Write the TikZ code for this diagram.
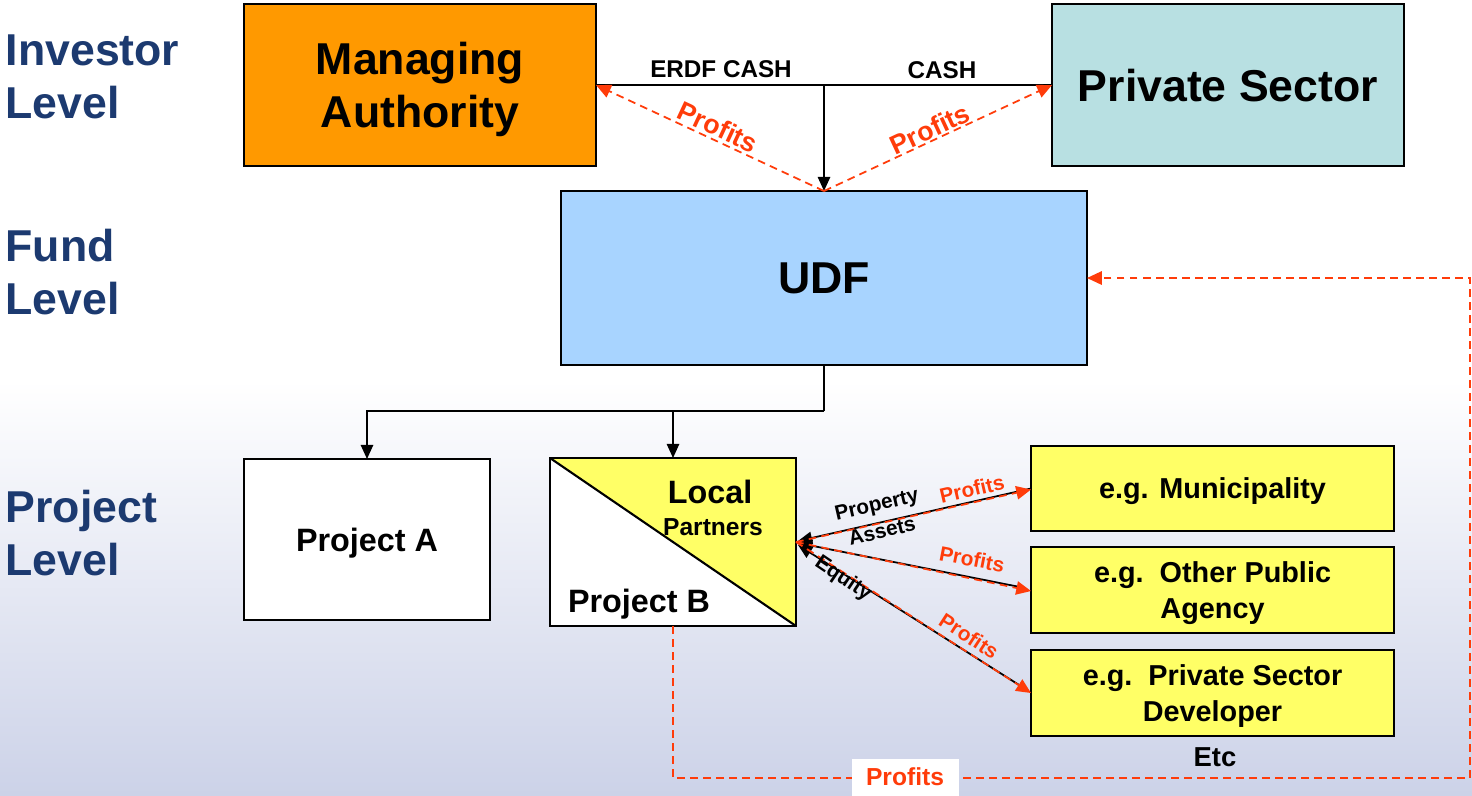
\documentclass[tikz,border=0pt]{standalone}
\usepackage{fontspec}
\setmainfont{Liberation Sans}
\usetikzlibrary{arrows.meta, positioning, calc}

\definecolor{levelblue}{RGB}{28,58,112}
\definecolor{maorange}{RGB}{255,153,0}
\definecolor{psteal}{RGB}{184,224,226}
\definecolor{udfblue}{RGB}{168,212,255}
\definecolor{partyellow}{RGB}{255,255,102}
\definecolor{profitred}{RGB}{255,60,10}
\definecolor{bglavender}{RGB}{204,210,232}

\newcommand{\bigfont}{\fontsize{12.7}{15.1}\selectfont\bfseries}
\newcommand{\boxfont}{\fontsize{9.2}{11}\selectfont\bfseries}
\newcommand{\partyfont}{\fontsize{8.2}{10}\selectfont\bfseries}
\newcommand{\cashfont}{\fontsize{6.9}{8}\selectfont\bfseries}
\newcommand{\flowfont}{\fontsize{5.9}{7}\selectfont\bfseries}

\tikzset{
  box/.style={draw, line width=0.6pt, outer sep=0pt, inner sep=0pt, align=center, text depth=0pt},
  level/.style={anchor=west, inner sep=0pt, align=left, text=levelblue, font=\bigfont},
  cashline/.style={line width=0.5pt, -{Triangle[length=4pt,width=3.5pt]}},
  profitline/.style={draw=profitred, line width=0.5pt, dash pattern=on 2.2pt off 1.5pt,
    -{Triangle[length=4.2pt,width=3.8pt]}},
  profitlabel/.style={text=profitred, inner sep=0pt},
  flowlabel/.style={inner sep=0pt, font=\flowfont}
}

\begin{document}
\begin{tikzpicture}[x=0.1mm, y=-0.1mm]
\useasboundingbox (0,0) rectangle (1472,795);
% background
\fill[white] (0,0) rectangle (1472,380);
\shade[top color=white, bottom color=bglavender] (0,380) rectangle (1472,795);

% levels
\node[level] (investor) at (5,77) {Investor\\Level};
\node[level] (fund) at (5,272) {Fund\\Level};
\node[level] (project) at (5,533) {Project\\Level};

% investor level
\node[box, fill=maorange, minimum width=35.2mm, minimum height=16.2mm, font=\bigfont] (ma) at (420,85) {Managing\\Authority};
\node[box, fill=psteal, minimum width=35.2mm, minimum height=16.2mm, font=\bigfont] (ps) at (1228,85) {Private Sector};

% fund level
\node[box, fill=udfblue, minimum width=52.6mm, minimum height=17.4mm, font=\bigfont] (udf) at (824,278) {UDF};

% cash into the fund
\coordinate (cashjoin) at (ma.east -| udf.north);
\draw[line width=0.5pt] (ma.east) -- (ps.west);
\draw[cashline] (cashjoin) -- (udf.north);
\node[font=\cashfont] (erdf) at (721,69) {ERDF CASH};
\node[font=\cashfont] (cash) at (942,70) {CASH};

% profits back to investors
\draw[profitline] (udf.north) -- (ma.east);
\draw[profitline] (udf.north) -- (ps.west);
\node[profitlabel, font=\fontsize{7.6}{9}\selectfont\bfseries, rotate=-25] (maprofits) at (718,127) {Profits};
\node[profitlabel, font=\fontsize{7.6}{9}\selectfont\bfseries, rotate=25] (psprofits) at (930,129) {Profits};

% project level
\node[box, fill=white, minimum width=24.6mm, minimum height=16.1mm, font=\boxfont] (pa) at (367,539.5) {Project A};
\node[box, fill=white, minimum width=24.6mm, minimum height=16.8mm] (pb) at (673,542) {};
\fill[partyellow] (pb.north west) -- (pb.north east) -- (pb.south east) -- cycle;
\draw[line width=0.6pt] (pb.north west) -- (pb.south east);
\draw[line width=0.6pt] (pb.north west) rectangle (pb.south east);
\node[font=\boxfont] (local) at (710,492) {Local};
\node[font=\fontsize{7}{8}\selectfont\bfseries] (partners) at (713,527) {Partners};
\node[font=\boxfont] (pbname) at (639,604) {Project B};

\coordinate (split) at (824,411);
\draw[line width=0.5pt] (udf.south) -- (split);
\draw[cashline] (split) -| (pa.north);
\draw[cashline] (split) -| (pb.north);

% local partners
\node[box, fill=partyellow, minimum width=36.3mm, minimum height=8.5mm, font=\partyfont] (mun) at (1212.5,488.5) {e.g. Municipality};
\node[box, fill=partyellow, minimum width=36.3mm, minimum height=8.6mm, font=\partyfont] (opa) at (1212.5,590) {e.g.\ \ Other Public\\Agency};
\node[box, fill=partyellow, minimum width=36.3mm, minimum height=8.6mm, font=\partyfont] (dev) at (1212.5,693) {e.g.\ \ Private Sector\\Developer};
\node[font=\fontsize{7.8}{9}\selectfont\bfseries] (etc) at (1215,757) {Etc};

\draw[cashline] (mun.west) -- ($(pb.east)+(2,-1)$);
\draw[cashline] ($(opa.west)+(-6,-2)$) -- ($(pb.east)+(2,1)$);
\draw[cashline] ($(dev.west)+(-4,-3)$) -- ($(pb.east)+(2,3)$);
\draw[profitline] (pb.east) -- ($(mun.west)+(0,1)$);
\draw[profitline] (pb.east) -- ($(opa.west)+(0,1)$);
\draw[profitline] (pb.east) -- ($(dev.west)+(0,0)$);

\node[flowlabel, rotate=13] (property) at (877,506) {Property};
\node[flowlabel, rotate=13] (assets) at (882,531) {Assets};
\node[flowlabel, rotate=-34] (equity) at (843,579) {Equity};
\node[profitlabel, font=\flowfont, rotate=13] (munprofits) at (972,489) {Profits};
\node[profitlabel, font=\flowfont, rotate=-11] (opaprofits) at (972,559) {Profits};
\node[profitlabel, font=\flowfont, rotate=-33] (devprofits) at (969,636) {Profits};

% profits back to the fund
\draw[profitline] (pb.south) |- (1470,778) |- (udf.east);
\node[profitlabel, fill=white, minimum width=10.7mm, minimum height=3.7mm, font=\fontsize{7}{8}\selectfont\bfseries] (loopprofits) at (905,777) {Profits};
\end{tikzpicture}
\end{document}
